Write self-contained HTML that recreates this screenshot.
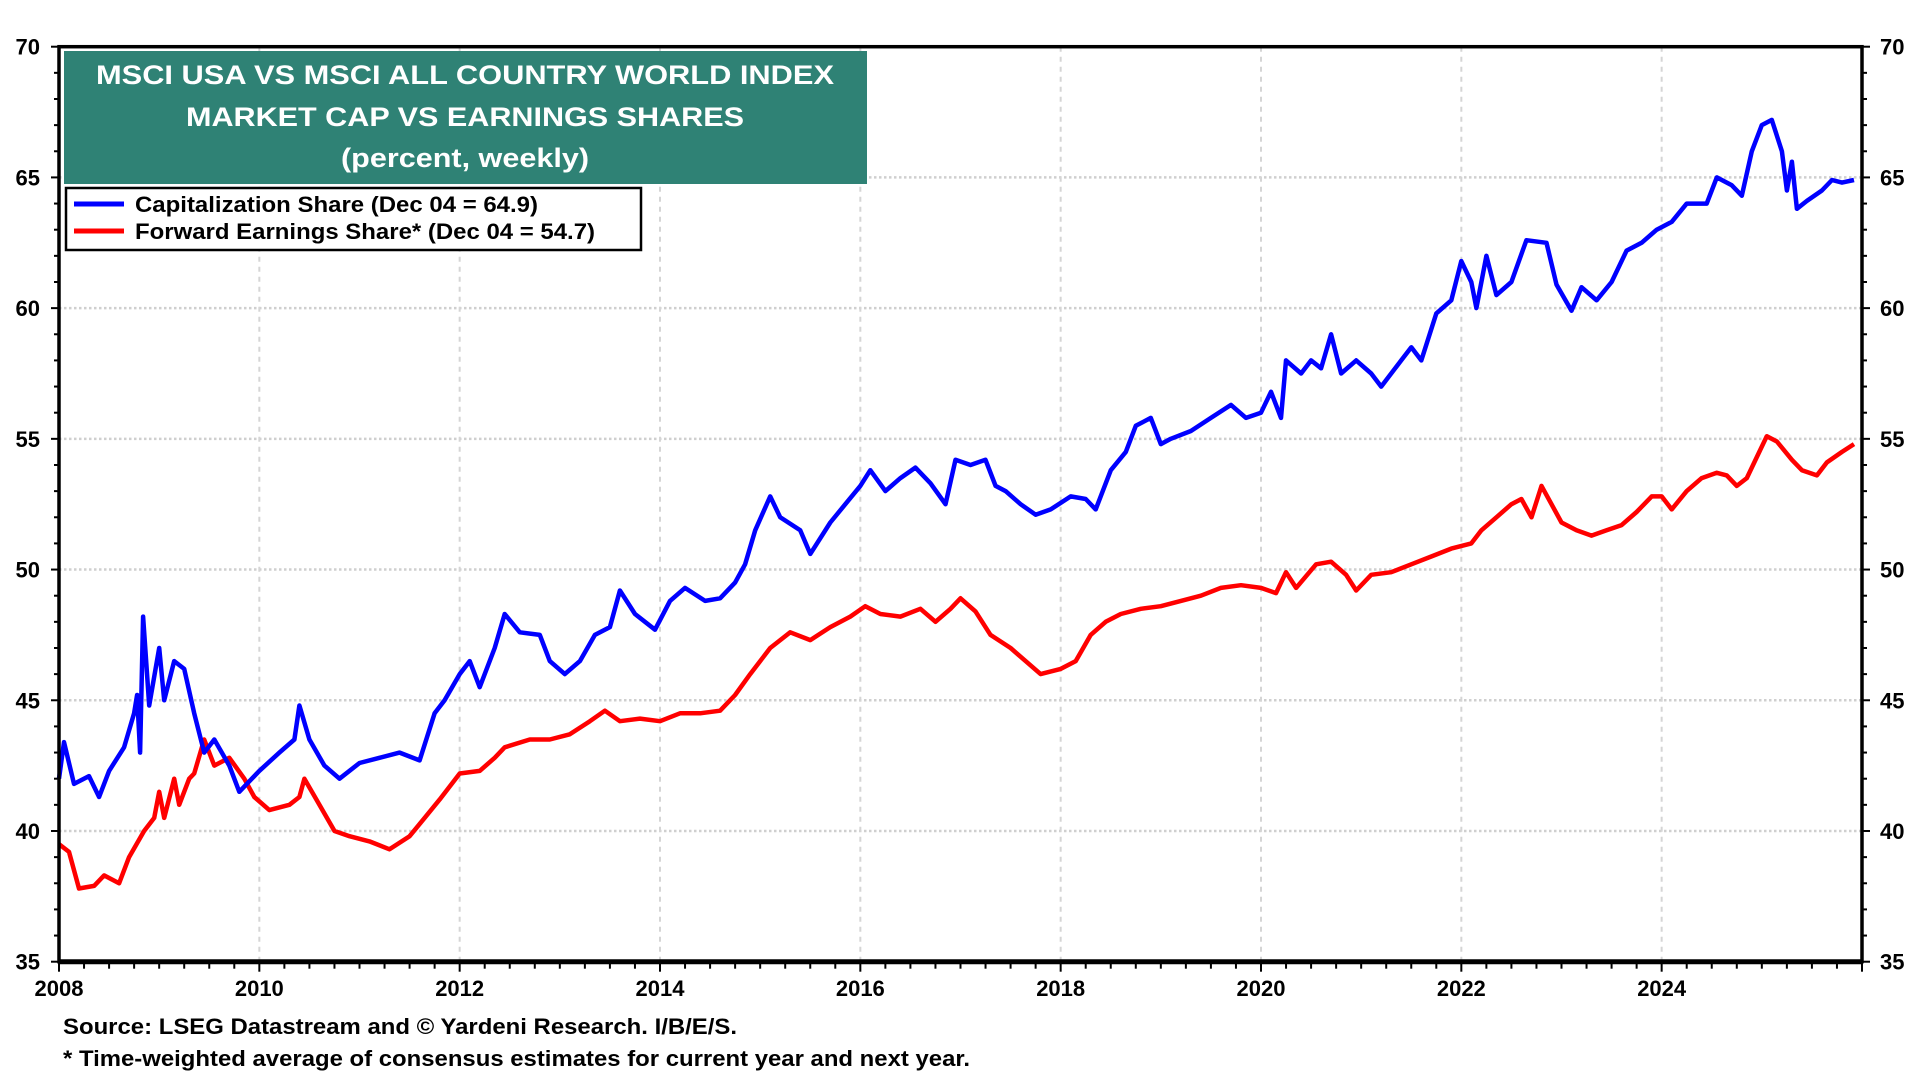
<!DOCTYPE html>
<html><head><meta charset="utf-8"><title>MSCI USA vs ACWI</title>
<style>html,body{margin:0;padding:0;background:#fff;}svg{display:block;font-family:"Liberation Sans",Arial,sans-serif;}</style>
</head><body>
<svg id="chart" width="1920" height="1080" viewBox="0 0 1920 1080">
<g id="grid"></g>
<g id="series"></g>
<g id="axes"></g>
<g>
<rect x="64" y="51" width="803" height="133" fill="#2f8275"/>
<text x="465" y="84" text-anchor="middle" font-size="27" font-weight="bold" fill="#fff" textLength="738" lengthAdjust="spacingAndGlyphs">MSCI USA VS MSCI ALL COUNTRY WORLD INDEX</text>
<text x="465" y="126" text-anchor="middle" font-size="27" font-weight="bold" fill="#fff" textLength="558" lengthAdjust="spacingAndGlyphs">MARKET CAP VS EARNINGS SHARES</text>
<text x="465" y="167" text-anchor="middle" font-size="27" font-weight="bold" fill="#fff" textLength="248" lengthAdjust="spacingAndGlyphs">(percent, weekly)</text>
</g>
<g>
<rect x="66" y="188" width="575" height="62" fill="#fff" stroke="#000" stroke-width="2.5"/>
<line x1="74" y1="204" x2="124" y2="204" stroke="#0000ff" stroke-width="5"/>
<text x="135" y="212" font-size="22" font-weight="bold" textLength="403" lengthAdjust="spacingAndGlyphs">Capitalization Share (Dec 04 = 64.9)</text>
<line x1="74" y1="231" x2="124" y2="231" stroke="#ff0000" stroke-width="5"/>
<text x="135" y="239" font-size="22" font-weight="bold" textLength="460" lengthAdjust="spacingAndGlyphs">Forward Earnings Share* (Dec 04 = 54.7)</text>
</g>
<text x="63" y="1034" font-size="22" font-weight="bold" textLength="674" lengthAdjust="spacingAndGlyphs">Source: LSEG Datastream and © Yardeni Research. I/B/E/S.</text>
<text x="63" y="1066" font-size="22" font-weight="bold" textLength="907" lengthAdjust="spacingAndGlyphs">* Time-weighted average of consensus estimates for current year and next year.</text>
</svg>
<script>
const capT=[2008.0,2008.05,2008.15,2008.3,2008.4,2008.5,2008.65,2008.75,2008.78,2008.81,2008.84,2008.9,2009.0,2009.05,2009.15,2009.25,2009.35,2009.45,2009.55,2009.7,2009.8,2010.0,2010.2,2010.35,2010.4,2010.5,2010.65,2010.8,2011.0,2011.2,2011.4,2011.6,2011.75,2011.85,2012.0,2012.1,2012.2,2012.35,2012.45,2012.6,2012.8,2012.9,2013.05,2013.2,2013.35,2013.5,2013.6,2013.75,2013.95,2014.1,2014.25,2014.45,2014.6,2014.75,2014.85,2014.95,2015.1,2015.2,2015.4,2015.5,2015.7,2015.85,2016.0,2016.1,2016.25,2016.4,2016.55,2016.7,2016.85,2016.95,2017.1,2017.25,2017.35,2017.45,2017.6,2017.75,2017.9,2018.1,2018.25,2018.35,2018.5,2018.65,2018.75,2018.9,2019.0,2019.1,2019.3,2019.5,2019.7,2019.85,2020.0,2020.1,2020.2,2020.25,2020.4,2020.5,2020.6,2020.7,2020.8,2020.95,2021.1,2021.2,2021.4,2021.5,2021.6,2021.75,2021.9,2022.0,2022.1,2022.15,2022.25,2022.35,2022.5,2022.65,2022.85,2022.95,2023.1,2023.2,2023.35,2023.5,2023.65,2023.8,2023.95,2024.1,2024.25,2024.45,2024.55,2024.7,2024.8,2024.9,2025.0,2025.1,2025.2,2025.25,2025.3,2025.35,2025.45,2025.6,2025.7,2025.8,2025.92];
const capV=[42.0,43.4,41.8,42.1,41.3,42.3,43.2,44.5,45.2,43.0,48.2,44.8,47.0,45.0,46.5,46.2,44.5,43.0,43.5,42.5,41.5,42.3,43.0,43.5,44.8,43.5,42.5,42.0,42.6,42.8,43.0,42.7,44.5,45.0,46.0,46.5,45.5,47.0,48.3,47.6,47.5,46.5,46.0,46.5,47.5,47.8,49.2,48.3,47.7,48.8,49.3,48.8,48.9,49.5,50.2,51.5,52.8,52.0,51.5,50.6,51.8,52.5,53.2,53.8,53.0,53.5,53.9,53.3,52.5,54.2,54.0,54.2,53.2,53.0,52.5,52.1,52.3,52.8,52.7,52.3,53.8,54.5,55.5,55.8,54.8,55.0,55.3,55.8,56.3,55.8,56.0,56.8,55.8,58.0,57.5,58.0,57.7,59.0,57.5,58.0,57.5,57.0,58.0,58.5,58.0,59.8,60.3,61.8,61.0,60.0,62.0,60.5,61.0,62.6,62.5,60.9,59.9,60.8,60.3,61.0,62.2,62.5,63.0,63.3,64.0,64.0,65.0,64.7,64.3,66.0,67.0,67.2,66.0,64.5,65.6,63.8,64.1,64.5,64.9,64.8,64.9];
const earnT=[2008.0,2008.1,2008.2,2008.35,2008.45,2008.6,2008.7,2008.85,2008.95,2009.0,2009.05,2009.15,2009.2,2009.3,2009.35,2009.45,2009.55,2009.7,2009.85,2009.95,2010.1,2010.3,2010.4,2010.45,2010.6,2010.75,2010.9,2011.1,2011.3,2011.5,2011.65,2011.8,2012.0,2012.2,2012.35,2012.45,2012.7,2012.9,2013.1,2013.3,2013.45,2013.6,2013.8,2014.0,2014.2,2014.4,2014.6,2014.75,2014.9,2015.1,2015.3,2015.5,2015.7,2015.9,2016.05,2016.2,2016.4,2016.6,2016.75,2016.9,2017.0,2017.15,2017.3,2017.5,2017.65,2017.8,2018.0,2018.15,2018.3,2018.45,2018.6,2018.8,2019.0,2019.2,2019.4,2019.6,2019.8,2020.0,2020.15,2020.25,2020.35,2020.55,2020.7,2020.85,2020.95,2021.1,2021.3,2021.5,2021.7,2021.9,2022.1,2022.2,2022.35,2022.5,2022.6,2022.7,2022.8,2022.9,2023.0,2023.15,2023.3,2023.45,2023.6,2023.75,2023.9,2024.0,2024.1,2024.25,2024.4,2024.55,2024.65,2024.75,2024.85,2024.95,2025.05,2025.15,2025.3,2025.4,2025.55,2025.65,2025.8,2025.92];
const earnV=[39.5,39.2,37.8,37.9,38.3,38.0,39.0,40.0,40.5,41.5,40.5,42.0,41.0,42.0,42.2,43.5,42.5,42.8,42.0,41.3,40.8,41.0,41.3,42.0,41.0,40.0,39.8,39.6,39.3,39.8,40.5,41.2,42.2,42.3,42.8,43.2,43.5,43.5,43.7,44.2,44.6,44.2,44.3,44.2,44.5,44.5,44.6,45.2,46.0,47.0,47.6,47.3,47.8,48.2,48.6,48.3,48.2,48.5,48.0,48.5,48.9,48.4,47.5,47.0,46.5,46.0,46.2,46.5,47.5,48.0,48.3,48.5,48.6,48.8,49.0,49.3,49.4,49.3,49.1,49.9,49.3,50.2,50.3,49.8,49.2,49.8,49.9,50.2,50.5,50.8,51.0,51.5,52.0,52.5,52.7,52.0,53.2,52.5,51.8,51.5,51.3,51.5,51.7,52.2,52.8,52.8,52.3,53.0,53.5,53.7,53.6,53.2,53.5,54.3,55.1,54.9,54.2,53.8,53.6,54.1,54.5,54.8];
const yTicks=[35,40,45,50,55,60,65,70];
const xTickYears=[2008,2010,2012,2014,2016,2018,2020,2022,2024];

const L=59,R=1862,T=46.7,B=961.7,X0=2008,X1=2026,Y0=35,Y1=70;
const NS='http://www.w3.org/2000/svg';
function xs(t){return L+(t-X0)/(X1-X0)*(R-L);}
function ys(v){return B-(v-Y0)/(Y1-Y0)*(B-T);}
function mk(tag,attrs,parent){const e=document.createElementNS(NS,tag);for(const k in attrs)e.setAttribute(k,attrs[k]);parent.appendChild(e);return e;}
const grid=document.getElementById('grid'),axes=document.getElementById('axes'),series=document.getElementById('series');
yTicks.forEach(v=>{
  if(v>Y0&&v<Y1){const g=mk('line',{x1:L,x2:R,y1:ys(v),y2:ys(v),stroke:'#cfcfcf','stroke-width':2.5,'stroke-dasharray':'2.5 2.5'},grid);
  
  }
  const a=mk('text',{x:40,y:ys(v)+8,'text-anchor':'end','font-size':22,'font-weight':'bold'},axes);a.textContent=v;
  
  
  const b=mk('text',{x:1880,y:ys(v)+8,'font-size':22,'font-weight':'bold'},axes);b.textContent=v;
  
  
});
for(let v=Y0;v<=Y1;v++){const len=v%5===0?8:5;
  mk('line',{x1:L-len,x2:L,y1:ys(v),y2:ys(v),stroke:'#000','stroke-width':2},axes);
  mk('line',{x1:R,x2:R+len,y1:ys(v),y2:ys(v),stroke:'#000','stroke-width':2},axes);}
xTickYears.forEach(yr=>{
  if(yr>X0){const g=mk('line',{x1:xs(yr),x2:xs(yr),y1:T,y2:B,stroke:'#d5d5d5','stroke-width':2,'stroke-dasharray':'5 5'},grid);
  
  }
  const t=mk('text',{x:xs(yr),y:996,'text-anchor':'middle','font-size':22,'font-weight':'bold'},axes);t.textContent=yr;
  
  
});
for(let q=X0*4;q<=X1*4;q++){const t=q/4;const major=(q%8===0);
  mk('line',{x1:xs(t),x2:xs(t),y1:B,y2:B+(major?10:7),stroke:'#000','stroke-width':2},axes);}
function path(T_,V,color,name){let d='';T_.forEach((t,i)=>{d+=(i?'L':'M')+xs(t).toFixed(1)+' '+ys(V[i]).toFixed(1);});
  const p=mk('path',{d:d,fill:'none',stroke:color,'stroke-width':4.5,'stroke-linejoin':'round'},series);
  
  }
path(earnT,earnV,'#ff0000','forward-earnings-share-line');
path(capT,capV,'#0000ff','capitalization-share-line');
const fr=mk('rect',{x:L,y:T,width:R-L,height:B-T,fill:'none',stroke:'#000','stroke-width':3.5},axes);


mk('line',{x1:L,x2:R,y1:B,y2:B,stroke:'#000','stroke-width':5},axes);
</script>
</body></html>
